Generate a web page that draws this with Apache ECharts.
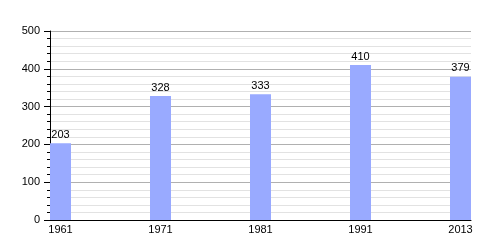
<!DOCTYPE html>
<html>
<head>
<meta charset="utf-8">
<script src="https://cdn.jsdelivr.net/npm/echarts@6/dist/echarts.min.js"></script>
<style>html,body{margin:0;padding:0;background:#fff}#c{width:500px;height:250px}</style>
</head>
<body>
<div id="c"></div>
<script>
const years = ['1961', '1971', '1981', '1991', '2013'];
const population = [203, 328, 333, 410, 379];
const yTicks = [0, 100, 200, 300, 400, 500];

const chart = echarts.init(document.getElementById('c'), null, {renderer: 'canvas'});
const font = 'Liberation Sans, Arial, sans-serif';
chart.setOption({
  animation: false,
  grid: {left: 50, top: 31, width: 421, height: 189, containLabel: false},
  xAxis: {
    type: 'value', min: -0.105, max: 4.105,
    axisLine: {show: true, onZero: false, lineStyle: {color: '#000', width: 1}},
    axisTick: {show: false},
    splitLine: {show: false},
    axisLabel: {
      customValues: years.map((y, i) => i),
      formatter: v => years[Math.round(v)] || '',
      color: '#000', fontFamily: font, fontSize: 11, margin: 4
    }
  },
  yAxis: {
    type: 'value', min: yTicks[0], max: yTicks[yTicks.length - 1], interval: 100,
    axisLine: {show: true, onZero: false, lineStyle: {color: '#000', width: 1}},
    axisTick: {show: true, length: 6, lineStyle: {color: '#000'}},
    minorTick: {show: true, splitNumber: 5, length: 3, lineStyle: {color: '#000'}},
    splitLine: {show: true, lineStyle: {color: '#b0b0b0', width: 1}},
    minorSplitLine: {show: true, lineStyle: {color: '#e2e2e2', width: 1}},
    axisLabel: {color: '#000', fontFamily: font, fontSize: 11, margin: 10}
  },
  series: [{
    type: 'bar',
    data: population.map((v, i) => [i, v]),
    barWidth: 21,
    itemStyle: {color: '#99aaff'},
    label: {show: true, position: 'top', distance: 3, color: '#000', fontFamily: font, fontSize: 11}
  }]
});
</script>
</body>
</html>
